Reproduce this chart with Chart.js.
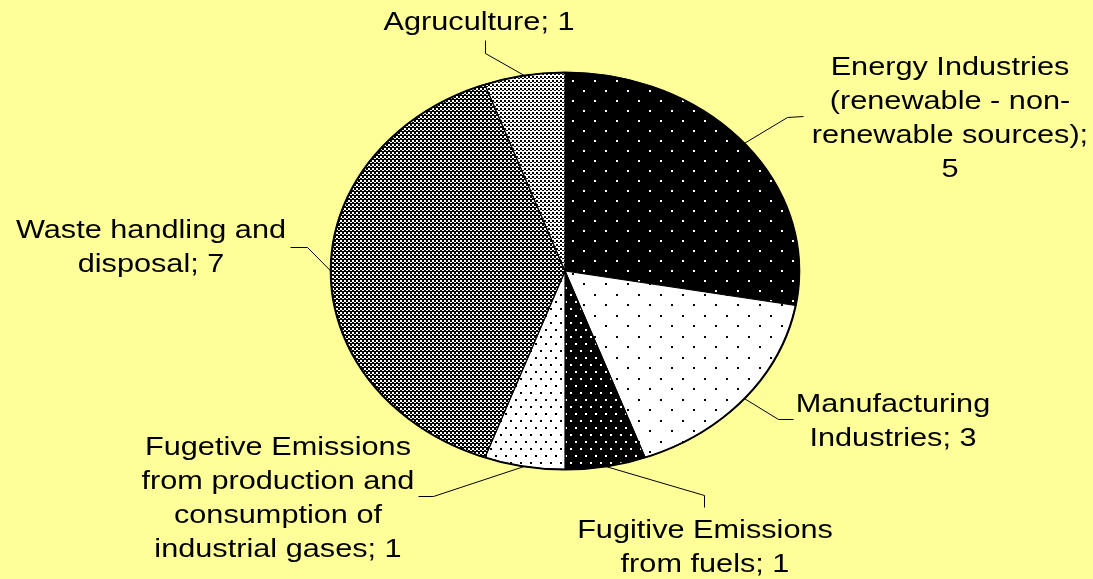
<!DOCTYPE html>
<html>
<head>
<meta charset="utf-8">
<script src="https://cdn.jsdelivr.net/npm/chart.js@4.4.1/dist/chart.umd.min.js"></script>
<style>
  html, body { margin: 0; padding: 0; background: #ffff99; }
  #wrap { width: 1093px; height: 579px; }
</style>
</head>
<body>
<div id="wrap"><canvas id="sectorChart"></canvas></div>
<script>
// sector names (already broken into lines the way the picture shows them)
const categories = [
  ["Energy Industries", "(renewable - non-", "renewable sources)"],
  ["Manufacturing", "Industries"],
  ["Fugitive Emissions", "from fuels"],
  ["Fugetive Emissions", "from production and", "consumption of", "industrial gases"],
  ["Waste handling and", "disposal"],
  ["Agruculture"],
];
const values = [5, 3, 1, 1, 7, 1];

// label layout: text centre x, first baseline y, leader bend and leader end
const labelCenterX = [950, 893, 705, 278, 151, 479];
const labelBaseY = [75, 412, 538, 455, 238, 30];
const leaderBend = [[787, 117], [778, 419], [704, 495], [433, 496], [307, 247], [485, 53]];
const leaderEnd = [[803, 116], [793, 419], [704, 507], [418, 496], [290, 247], [485, 40]];

const STRETCH = 1.18; // picture is wider than tall
const LINE_H = 34;
const FONT = '26px "Liberation Sans", Arial, sans-serif';

// fill patterns
const patternCanvas = document.createElement("canvas").getContext("2d");
function makePattern(w, h, bg, fg, cells) {
  const c = document.createElement("canvas");
  c.width = w;
  c.height = h;
  const g = c.getContext("2d");
  g.fillStyle = bg;
  g.fillRect(0, 0, w, h);
  g.fillStyle = fg;
  cells.forEach(([x, y, cw, ch]) => g.fillRect(x, y, cw, ch));
  return patternCanvas.createPattern(c, "repeat");
}

const patterns = [
  makePattern(22, 20, "#000", "#fff", [[0, 0, 2, 2], [11, 10, 2, 2]]),
  makePattern(22, 21, "#fff", "#000", [[0, 0, 2, 2], [11, 10, 2, 2]]),
  makePattern(10, 14, "#000", "#fff", [[0, 0, 2, 2], [5, 7, 2, 2]]),
  makePattern(10, 14, "#fff", "#000", [[0, 0, 2, 2], [5, 7, 2, 2]]),
  makePattern(4, 4, "#000", "#fff", [[0, 0, 2, 2], [2, 2, 2, 1]]),
  makePattern(4, 4, "#fff", "#000", [[0, 0, 2, 2], [2, 2, 2, 1]]),
];

// squash the round pie into the wide ellipse of the picture
const stretchPlugin = {
  id: "stretch",
  beforeDatasetsDraw(chart) {
    const arc = chart.getDatasetMeta(0).data[0];
    const ctx = chart.ctx;
    const tx = -arc.x * (1 - STRETCH);
    patterns.forEach((p) => p.setTransform(new DOMMatrix([1 / STRETCH, 0, 0, 1, tx / STRETCH, 0])));
    ctx.save();
    ctx.translate(arc.x, 0);
    ctx.scale(STRETCH, 1);
    ctx.translate(-arc.x, 0);
  },
  afterDatasetsDraw(chart) {
    const arc = chart.getDatasetMeta(0).data[0];
    const ctx = chart.ctx;
    ctx.beginPath();
    ctx.arc(arc.x, arc.y, arc.outerRadius, 0, Math.PI * 2);
    ctx.lineWidth = 1.8;
    ctx.strokeStyle = "#000";
    ctx.stroke();
    ctx.restore();
  },
};

function buildLines(i, ctx) {
  const lines = categories[i].slice();
  const last = lines[lines.length - 1];
  const joined = last + "; " + values[i];
  if (ctx.measureText(joined).width * STRETCH > 290) {
    lines[lines.length - 1] = last + ";";
    lines.push(String(values[i]));
  } else {
    lines[lines.length - 1] = joined;
  }
  return lines;
}

const labelPlugin = {
  id: "sliceLabels",
  afterDraw(chart) {
    const ctx = chart.ctx;
    const meta = chart.getDatasetMeta(0);
    ctx.save();
    ctx.font = FONT;
    ctx.fillStyle = "#000";
    ctx.strokeStyle = "#000";
    ctx.lineWidth = 1;
    ctx.textAlign = "center";
    meta.data.forEach((arc, i) => {
      const mid = (arc.startAngle + arc.endAngle) / 2;
      const ex = arc.x + Math.cos(mid) * arc.outerRadius * STRETCH;
      const ey = arc.y + Math.sin(mid) * arc.outerRadius;
      ctx.beginPath();
      ctx.moveTo(ex, ey);
      ctx.lineTo(leaderBend[i][0] + 0.5, leaderBend[i][1] + 0.5);
      ctx.lineTo(leaderEnd[i][0] + 0.5, leaderEnd[i][1] + 0.5);
      ctx.stroke();

      const lines = buildLines(i, ctx);
      lines.forEach((line, k) => {
        ctx.save();
        ctx.translate(labelCenterX[i], labelBaseY[i] + k * LINE_H);
        ctx.scale(STRETCH, 1);
        ctx.fillText(line, 0, 0);
        ctx.restore();
      });
    });
    ctx.restore();
  },
};

const sectorCtx = document.getElementById("sectorChart").getContext("2d");
const sectorChart = new Chart(sectorCtx, {
  type: "pie",
  data: {
    labels: categories.map((c) => c.join(" ")),
    datasets: [
      {
        data: values,
        backgroundColor: patterns,
        borderColor: "#000",
        borderWidth: 1,
        hoverOffset: 0,
      },
    ],
  },
  options: {
    responsive: true,
    maintainAspectRatio: false,
    animation: false,
    layout: { padding: { top: 72, bottom: 109, left: 300, right: 263 } },
    plugins: {
      legend: { display: false },
      tooltip: { enabled: false },
    },
  },
  plugins: [stretchPlugin, labelPlugin],
});
</script>
</body>
</html>
